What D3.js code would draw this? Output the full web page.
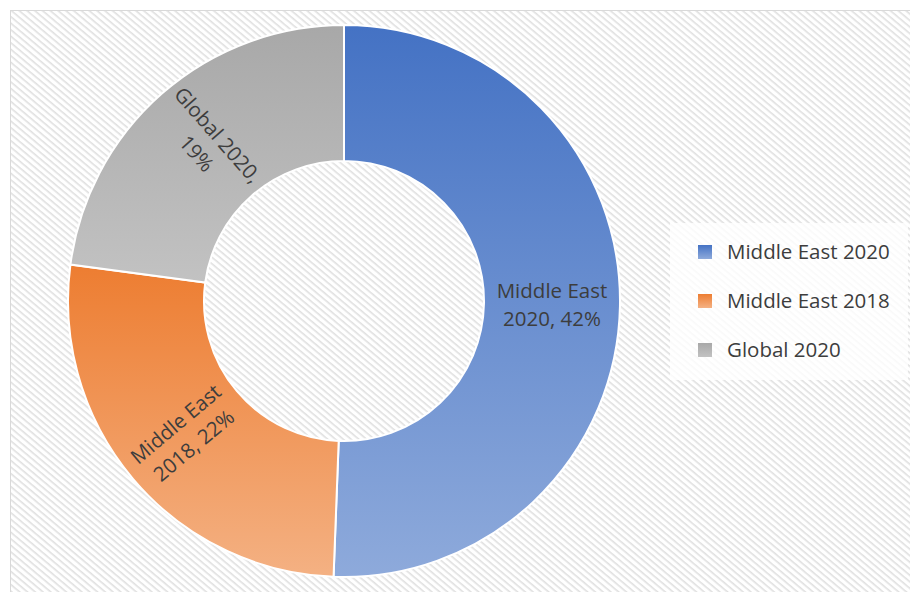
<!DOCTYPE html>
<html>
<head>
<meta charset="utf-8">
<script src="https://cdn.jsdelivr.net/npm/d3@7"></script>
<style>
  body { margin: 0; background: #fff; }
  svg { display: block; }
</style>
</head>
<body>
<script>
const w = 910;
const h = 592;

// data
const categories = ["Middle East 2020", "Middle East 2018", "Global 2020"];
const values = [42, 22, 19];
const labelLines = [["Middle East", "2020, 42%"], ["Middle East", "2018, 22%"], ["Global 2020,", "19%"]];
const topColors = ["#4472c4", "#ed7d31", "#a8a8a8"];
const bottomColors = ["#8eaadb", "#f4b183", "#c2c2c2"];

const cx = 344, cy = 301;
const outerR = 276, innerR = 140;
const font = "'Open Sans', Lato, sans-serif";

let svg = d3.select("body")
    .append("svg")
    .attr("width", w)
    .attr("height", h);

let defs = svg.append("defs");

// hatched chart background
let pat = defs.append("pattern")
    .attr("id", "hatch")
    .attr("width", 5)
    .attr("height", 5)
    .attr("patternUnits", "userSpaceOnUse")
    .attr("patternTransform", "rotate(40)");
pat.append("rect").attr("width", 5).attr("height", 5).attr("fill", "#ffffff");
pat.append("rect").attr("width", 5).attr("height", 1.6).attr("fill", "#e0e0e0");

categories.forEach((c, i) => {
    let g = defs.append("linearGradient")
        .attr("id", "grad" + i)
        .attr("x1", 0).attr("y1", 0)
        .attr("x2", 0).attr("y2", 1);
    g.append("stop").attr("offset", "0%").attr("stop-color", topColors[i]);
    g.append("stop").attr("offset", "100%").attr("stop-color", bottomColors[i]);
});

svg.append("rect")
    .attr("x", 10.5)
    .attr("y", 10.5)
    .attr("width", w)
    .attr("height", h)
    .attr("fill", "url(#hatch)")
    .attr("stroke", "#d9d9d9");

let pie = d3.pie()
    .sort(null)
    .value((d) => d);

let arc = d3.arc()
    .innerRadius(innerR)
    .outerRadius(outerR);

let arcs = pie(values);

let chart = svg.append("g")
    .attr("transform", "translate(" + cx + "," + cy + ")");

chart.selectAll("path")
    .data(arcs)
    .enter()
    .append("path")
    .attr("d", arc)
    .attr("fill", (d, i) => "url(#grad" + i + ")")
    .attr("stroke", "#ffffff")
    .attr("stroke-width", 2);

// labels: first one horizontal, others rotated along the radius
let labels = chart.selectAll("text.lbl")
    .data(arcs)
    .enter()
    .append("text")
    .attr("class", "lbl")
    .attr("text-anchor", "middle")
    .attr("font-family", font)
    .attr("font-size", 20.5)
    .attr("fill", "#3d3d3d")
    .attr("transform", (d, i) => {
        let c = arc.centroid(d);
        let mid = (d.startAngle + d.endAngle) / 2 * 180 / Math.PI;
        let rot = i === 0 ? 0 : mid - 270;
        return "translate(" + c[0] + "," + c[1] + ") rotate(" + rot + ")";
    });

labels.each(function(d, i) {
    let t = d3.select(this);
    labelLines[i].forEach((line, k) => {
        t.append("tspan")
            .attr("x", 0)
            .attr("y", (k - 0.5) * 28 + 7)
            .text(line);
    });
});

// legend
let legend = svg.append("g");
legend.append("rect")
    .attr("x", 670)
    .attr("y", 223)
    .attr("width", 238)
    .attr("height", 157)
    .attr("fill", "#ffffff")
    .attr("fill-opacity", 0.8);

let ly = d3.scalePoint()
    .domain(categories)
    .range([252, 350]);

let items = legend.selectAll("g.item")
    .data(categories)
    .enter()
    .append("g")
    .attr("class", "item")
    .attr("transform", (d) => "translate(698," + ly(d) + ")");

items.append("rect")
    .attr("x", 0)
    .attr("y", -7)
    .attr("width", 14)
    .attr("height", 14)
    .attr("fill", (d, i) => "url(#grad" + i + ")");

items.append("text")
    .attr("x", 29)
    .attr("y", 7)
    .attr("font-family", font)
    .attr("font-size", 20.5)
    .attr("fill", "#3d3d3d")
    .text((d) => d);
</script>
</body>
</html>
